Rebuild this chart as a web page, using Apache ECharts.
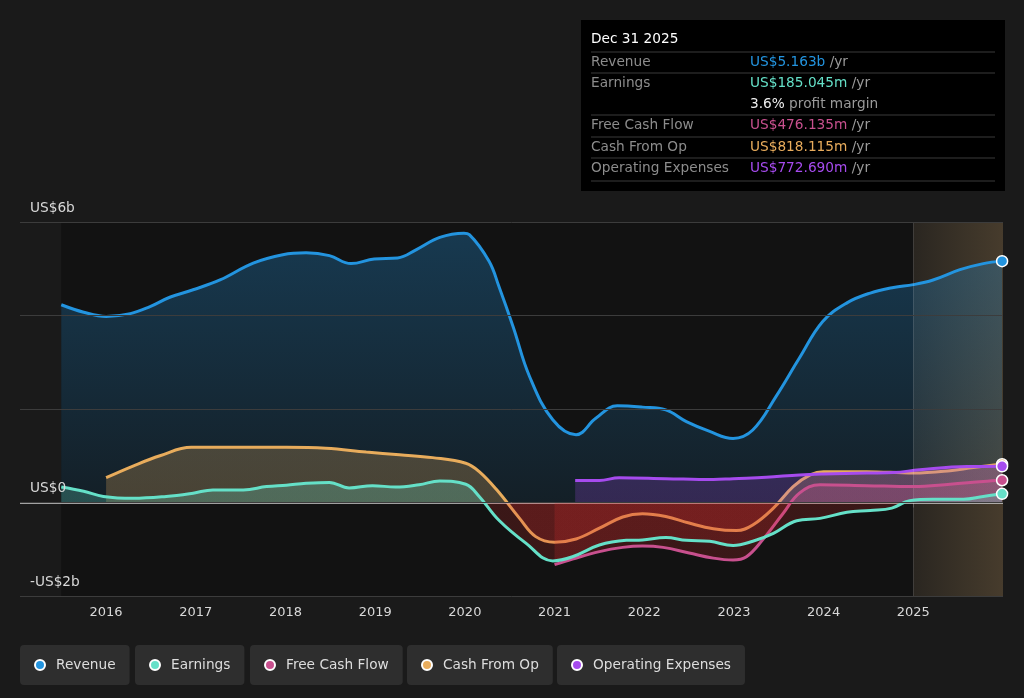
<!DOCTYPE html>
<html>
<head>
<meta charset="utf-8">
<title>Revenue and earnings</title>
<script src="https://cdn.jsdelivr.net/npm/echarts@6/dist/echarts.min.js"></script>
<style>
  html, body { margin: 0; padding: 0; background: #1a1a1a; }
  #chart { width: 1024px; height: 698px; }
</style>
</head>
<body>
<div id="chart"></div>
<script>
// values, [year, US$ billions]
var revenue = [[2015.5,4.23],[2015.75,4.07],[2016.0,3.98],[2016.27,4.04],[2016.49,4.19],[2016.71,4.39],[2016.97,4.55],[2017.27,4.76],[2017.64,5.12],[2017.97,5.30],[2018.23,5.34],[2018.49,5.28],[2018.73,5.11],[2018.99,5.21],[2019.25,5.23],[2019.46,5.41],[2019.72,5.67],[2019.99,5.76],[2020.05,5.73],[2020.27,5.16],[2020.38,4.62],[2020.54,3.75],[2020.72,2.70],[2020.98,1.77],[2021.24,1.45],[2021.46,1.80],[2021.70,2.07],[2021.98,2.04],[2022.24,1.98],[2022.47,1.73],[2022.73,1.52],[2022.99,1.37],[2023.21,1.55],[2023.47,2.27],[2023.73,3.09],[2023.99,3.87],[2024.26,4.27],[2024.52,4.48],[2024.78,4.60],[2025.0,4.66],[2025.22,4.76],[2025.52,4.98],[2025.78,5.11],[2025.99,5.163]];
var earnings = [[2015.5,0.33],[2015.75,0.24],[2015.97,0.13],[2016.3,0.09],[2016.67,0.13],[2016.97,0.20],[2017.19,0.27],[2017.53,0.27],[2017.79,0.34],[2018.01,0.37],[2018.23,0.41],[2018.49,0.43],[2018.71,0.31],[2018.97,0.36],[2019.23,0.33],[2019.49,0.38],[2019.72,0.46],[2020.01,0.39],[2020.16,0.13],[2020.38,-0.38],[2020.68,-0.87],[2020.98,-1.25],[2021.2,-1.16],[2021.5,-0.91],[2021.8,-0.81],[2021.98,-0.80],[2022.24,-0.75],[2022.47,-0.81],[2022.73,-0.83],[2022.99,-0.92],[2023.21,-0.83],[2023.44,-0.66],[2023.7,-0.39],[2023.96,-0.34],[2024.26,-0.21],[2024.52,-0.17],[2024.76,-0.12],[2024.96,0.04],[2025.22,0.07],[2025.56,0.07],[2025.78,0.13],[2025.99,0.185]];
var freeCashFlow = [[2021.0,-1.33],[2021.2,-1.21],[2021.5,-1.05],[2021.76,-0.96],[2021.98,-0.93],[2022.21,-0.96],[2022.5,-1.08],[2022.77,-1.19],[2022.99,-1.23],[2023.14,-1.16],[2023.32,-0.80],[2023.55,-0.23],[2023.73,0.20],[2023.96,0.38],[2024.48,0.36],[2025.0,0.34],[2025.41,0.39],[2025.78,0.45],[2025.99,0.476]];
var cashFromOp = [[2016.0,0.53],[2016.3,0.78],[2016.6,1.00],[2016.95,1.18],[2017.42,1.18],[2018.01,1.18],[2018.45,1.16],[2018.9,1.08],[2019.27,1.02],[2019.64,0.96],[2020.01,0.84],[2020.16,0.66],[2020.36,0.26],[2020.61,-0.34],[2020.79,-0.73],[2021.0,-0.85],[2021.24,-0.78],[2021.5,-0.55],[2021.76,-0.31],[2021.98,-0.24],[2022.24,-0.30],[2022.5,-0.44],[2022.77,-0.56],[2023.03,-0.60],[2023.21,-0.48],[2023.44,-0.12],[2023.66,0.34],[2023.85,0.59],[2024.0,0.66],[2024.48,0.66],[2025.0,0.63],[2025.41,0.68],[2025.67,0.75],[2025.99,0.818]];
var opExpenses = [[2021.23,0.47],[2021.5,0.47],[2021.72,0.53],[2022.24,0.51],[2022.77,0.49],[2022.99,0.51],[2023.36,0.54],[2023.73,0.59],[2024.0,0.61],[2024.48,0.63],[2024.78,0.64],[2025.07,0.70],[2025.6,0.77],[2025.99,0.773]];

var yearTicks = [2016,2017,2018,2019,2020,2021,2022,2023,2024,2025];
var names = ['Revenue','Earnings','Free Cash Flow','Cash From Op','Operating Expenses'];
var colors = ['#2394df','#65e0c8','#c8508e','#e8ac5c','#a64bee'];
var boxValues = ['US$5.163b','US$185.045m','US$476.135m','US$818.115m','US$772.690m'];
var forecastStart = 2025;
var dataStart = 2015.5;

var FONT = 'DejaVu Sans';
var FS = 13.7;
var myChart = echarts.init(document.getElementById('chart'));

// last point gets the ringed dot
function withEndDot(arr){
	var out = [];
	for(var i=0;i<arr.length;i++){
		if(i===arr.length-1){
			out.push({value: arr[i], symbol: 'circle', symbolSize: 11});
		}else{
			out.push(arr[i]);
		}
	}
	return out;
}

// fill coloured above zero, red below zero (plot spans y 222..596, zero at 502)
function zeroFill(pos){
	var neg = 'rgba(220,45,45,0.2)';
	var cut = (502-222)/(596-222);
	return new echarts.graphic.LinearGradient(0,222,0,596,[
		{offset:0,color:pos},{offset:cut,color:pos},
		{offset:cut,color:neg},{offset:1,color:neg}
	],true);
}

function lineSeries(idx, data, fill, z){
	return {
		name: names[idx],
		type: 'line',
		data: withEndDot(data),
		smooth: 0.4,
		symbol: 'none',
		showSymbol: true,
		z: z,
		lineStyle: {color: colors[idx], width: 3},
		itemStyle: {color: colors[idx], borderColor: '#fff', borderWidth: 1.5},
		areaStyle: {color: fill, opacity: 1},
		emphasis: {disabled: true}
	};
}

// one boxed legend per series
var legendLeft = [20,135,250,407,557];
var legends = [];
for(var i=0;i<names.length;i++){
	legends.push({
		data: [names[i]],
		left: legendLeft[i],
		top: 645,
		icon: 'circle',
		itemWidth: 10,
		itemHeight: 10,
		backgroundColor: '#2e2e2e',
		borderRadius: 4,
		padding: [13,14,13,14],
		textStyle: {color: '#dddddd', fontSize: FS, fontFamily: FONT, padding: [0,0,0,6]}
	});
}

// info box at the top right
var boxLabels = ['Revenue','Earnings','','Free Cash Flow','Cash From Op','Operating Expenses'];
var rowY = [62,83,104,125,147,168];
var sepY = [52,73,115,137,158,181];
var graphics = [{
	type: 'rect', shape: {x:581,y:20,width:424,height:171},
	style: {fill: '#000000'}, z: 100
},{
	type: 'text', x: 591, y: 39, z: 101,
	style: {text: 'Dec 31 2025', fill: '#ffffff', font: FS+'px "DejaVu Sans"', verticalAlign: 'middle'}
}];
for(var s=0;s<sepY.length;s++){
	graphics.push({type:'line', z:101, shape:{x1:591,y1:sepY[s],x2:995,y2:sepY[s]}, style:{stroke:'#3a3a3a',lineWidth:1}});
}
var valueIdx = [0,1,-1,2,3,4];
for(var r=0;r<rowY.length;r++){
	graphics.push({type:'text', x:591, y:rowY[r], z:101,
		style:{text: boxLabels[r], fill:'#8c8c8c', font: FS+'px "DejaVu Sans"', verticalAlign:'middle'}});
	var vt, rich = {
		v: {fontSize:FS, fontFamily:FONT},
		u: {fontSize:FS, fontFamily:FONT, fill:'#9a9a9a'}
	};
	if(valueIdx[r]<0){
		vt = '{w|3.6%}{u| profit margin}';
		rich.w = {fontSize:FS, fontFamily:FONT, fill:'#eeeeee'};
	}else{
		vt = '{v|'+boxValues[valueIdx[r]]+'}{u| /yr}';
		rich.v.fill = colors[valueIdx[r]];
	}
	graphics.push({type:'text', x:750, y:rowY[r], z:101,
		style:{text: vt, rich: rich, verticalAlign:'middle'}});
}

myChart.setOption({
	backgroundColor: '#1a1a1a',
	animation: false,
	textStyle: {fontFamily: FONT},
	legend: legends,
	grid: {left: 20, right: 21, top: 222, bottom: 102},
	xAxis: {
		type: 'value',
		min: 2015.04,
		max: 2026,
		axisLine: {show: false},
		splitLine: {show: false},
		axisTick: {show: true, customValues: yearTicks, length: 5, lineStyle: {color: '#555'}},
		axisLabel: {customValues: yearTicks, color: '#d8d8d8', fontSize: 13, margin: 10, fontFamily: FONT,
			formatter: function(v){ return String(v); }}
	},
	yAxis: {
		type: 'value',
		min: -2,
		max: 6,
		interval: 2,
		z: 20,
		axisLine: {show: false},
		axisTick: {show: false},
		splitLine: {lineStyle: {color: '#3c3c3c', width: 1}},
		axisLabel: {
			inside: true, margin: 10, color: '#d8d8d8', fontSize: FS, fontFamily: FONT,
			verticalAlign: 'bottom', padding: [0,0,7,0],
			formatter: function(v){
				if(v===6) return 'US$6b';
				if(v===0) return 'US$0';
				if(v===-2) return '-US$2b';
				return '';
			}
		}
	},
	graphic: graphics,
	series: [
		{
			// dark plot background from first data point
			type: 'line', data: [], z: 0, silent: true,
			markArea: {silent: true, itemStyle: {color: '#121212'},
				data: [[{xAxis: dataStart}, {xAxis: forecastStart}]]}
		},
		lineSeries(0, revenue, new echarts.graphic.LinearGradient(0,0,0,1,[
			{offset:0,color:'rgba(35,148,223,0.3)'},{offset:1,color:'rgba(35,148,223,0.1)'}]), 2),
		lineSeries(3, cashFromOp, zeroFill('rgba(232,172,92,0.25)'), 3),
		lineSeries(4, opExpenses, zeroFill('rgba(166,75,238,0.22)'), 4),
		lineSeries(2, freeCashFlow, zeroFill('rgba(200,80,142,0.25)'), 5),
		lineSeries(1, earnings, zeroFill('rgba(101,224,200,0.25)'), 6),
		{
			// forecast shading, zero line, divider
			type: 'line', data: [], z: 10, silent: true,
			markArea: {silent: true,
				itemStyle: {color: new echarts.graphic.LinearGradient(0,0,1,0,[
					{offset:0,color:'rgba(230,180,110,0.08)'},{offset:1,color:'rgba(230,180,110,0.22)'}])},
				data: [[{xAxis: forecastStart}, {xAxis: 2026}]]},
			markLine: {silent: true, symbol: 'none', label: {show: false},
				data: [
					{yAxis: 0, lineStyle: {color: '#d0d0d0', width: 1.5, type: 'solid'}},
					{xAxis: forecastStart, lineStyle: {color: 'rgba(255,255,255,0.14)', width: 1, type: 'solid'}}
				]}
		}
	]
});
</script>
</body>
</html>
